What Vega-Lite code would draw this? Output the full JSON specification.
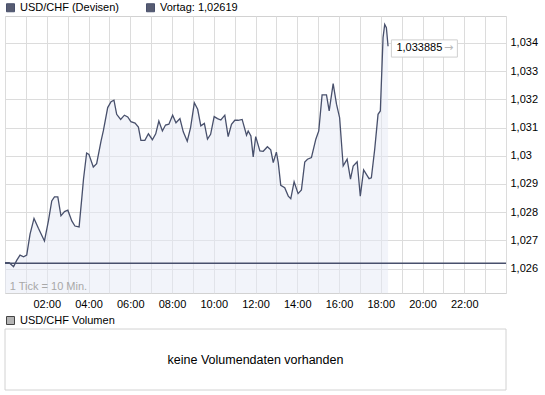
{
  "$schema": "https://vega.github.io/schema/vega-lite/v6.json",
  "background": "white",
  "padding": {"left": 3, "top": 1, "right": 0, "bottom": 0},
  "bounds": "flush",
  "spacing": 36,
  "config": {
    "font": "Liberation Sans",
    "view": {"stroke": "#d2d2d2"},
    "axis": {"labelFont": "Liberation Sans", "labelFontSize": 11, "labelColor": "#000000", "gridColor": "#dcdcdc", "gridWidth": 1, "domain": false, "ticks": false, "title": null, "labelOverlap": false},
    "legend": {"labelFont": "Liberation Sans", "labelFontSize": 11, "labelColor": "#000000", "padding": 0}
  },
  "datasets": {
    "fx": [
      {"h": 0.0, "v": 1.02621}, {"h": 0.2, "v": 1.02621}, {"h": 0.41, "v": 1.02607}, {"h": 0.56, "v": 1.02629},
      {"h": 0.72, "v": 1.02648}, {"h": 0.89, "v": 1.02642}, {"h": 1.04, "v": 1.02648}, {"h": 1.2, "v": 1.02722},
      {"h": 1.39, "v": 1.02778}, {"h": 1.6, "v": 1.02743}, {"h": 1.89, "v": 1.02698}, {"h": 2.08, "v": 1.02769},
      {"h": 2.24, "v": 1.0284}, {"h": 2.37, "v": 1.02854}, {"h": 2.53, "v": 1.02854}, {"h": 2.68, "v": 1.02787},
      {"h": 2.85, "v": 1.02802}, {"h": 3.01, "v": 1.02807}, {"h": 3.2, "v": 1.02769}, {"h": 3.35, "v": 1.02751},
      {"h": 3.55, "v": 1.02748}, {"h": 3.68, "v": 1.02851}, {"h": 3.76, "v": 1.02917}, {"h": 3.91, "v": 1.0301},
      {"h": 4.02, "v": 1.03005}, {"h": 4.23, "v": 1.0296}, {"h": 4.39, "v": 1.02972}, {"h": 4.6, "v": 1.03052},
      {"h": 4.71, "v": 1.03088}, {"h": 4.92, "v": 1.03171}, {"h": 5.08, "v": 1.03192}, {"h": 5.22, "v": 1.03197},
      {"h": 5.35, "v": 1.03147}, {"h": 5.54, "v": 1.03129}, {"h": 5.72, "v": 1.03144}, {"h": 5.88, "v": 1.03138},
      {"h": 6.03, "v": 1.03121}, {"h": 6.23, "v": 1.03116}, {"h": 6.39, "v": 1.03102}, {"h": 6.51, "v": 1.03055},
      {"h": 6.7, "v": 1.03055}, {"h": 6.87, "v": 1.03078}, {"h": 7.06, "v": 1.03057}, {"h": 7.22, "v": 1.03078},
      {"h": 7.37, "v": 1.03123}, {"h": 7.54, "v": 1.03088}, {"h": 7.69, "v": 1.03109}, {"h": 7.85, "v": 1.03112},
      {"h": 8.03, "v": 1.03144}, {"h": 8.19, "v": 1.03117}, {"h": 8.38, "v": 1.03132}, {"h": 8.54, "v": 1.03085},
      {"h": 8.73, "v": 1.03052}, {"h": 8.89, "v": 1.031}, {"h": 9.07, "v": 1.03188}, {"h": 9.23, "v": 1.03165},
      {"h": 9.38, "v": 1.03106}, {"h": 9.55, "v": 1.03115}, {"h": 9.7, "v": 1.03059}, {"h": 9.85, "v": 1.03076},
      {"h": 10.02, "v": 1.03139}, {"h": 10.18, "v": 1.03132}, {"h": 10.34, "v": 1.03127}, {"h": 10.53, "v": 1.03144},
      {"h": 10.69, "v": 1.03068}, {"h": 10.85, "v": 1.03112}, {"h": 11.01, "v": 1.03126}, {"h": 11.17, "v": 1.03126},
      {"h": 11.36, "v": 1.03129}, {"h": 11.57, "v": 1.03073}, {"h": 11.65, "v": 1.03088}, {"h": 11.78, "v": 1.0307},
      {"h": 11.89, "v": 1.02996}, {"h": 12.01, "v": 1.03068}, {"h": 12.21, "v": 1.03017}, {"h": 12.37, "v": 1.03016},
      {"h": 12.57, "v": 1.03032}, {"h": 12.73, "v": 1.03021}, {"h": 12.85, "v": 1.02976}, {"h": 13.0, "v": 1.03013},
      {"h": 13.09, "v": 1.02976}, {"h": 13.21, "v": 1.02895}, {"h": 13.4, "v": 1.02887}, {"h": 13.57, "v": 1.02857},
      {"h": 13.69, "v": 1.02848}, {"h": 13.85, "v": 1.02908}, {"h": 14.04, "v": 1.02866}, {"h": 14.2, "v": 1.02879},
      {"h": 14.36, "v": 1.02978}, {"h": 14.49, "v": 1.02988}, {"h": 14.68, "v": 1.02994}, {"h": 14.89, "v": 1.03059},
      {"h": 15.03, "v": 1.03088}, {"h": 15.19, "v": 1.03216}, {"h": 15.4, "v": 1.03216}, {"h": 15.53, "v": 1.03159},
      {"h": 15.72, "v": 1.03256}, {"h": 15.88, "v": 1.03183}, {"h": 16.03, "v": 1.03135}, {"h": 16.2, "v": 1.02964},
      {"h": 16.39, "v": 1.02988}, {"h": 16.55, "v": 1.02917}, {"h": 16.68, "v": 1.02964}, {"h": 16.87, "v": 1.02979},
      {"h": 17.02, "v": 1.02857}, {"h": 17.18, "v": 1.0295}, {"h": 17.44, "v": 1.02919}, {"h": 17.55, "v": 1.02922},
      {"h": 17.71, "v": 1.03023}, {"h": 17.87, "v": 1.03147}, {"h": 17.98, "v": 1.03159}, {"h": 18.11, "v": 1.03419},
      {"h": 18.19, "v": 1.03466}, {"h": 18.27, "v": 1.03454}, {"h": 18.35, "v": 1.033885}
    ]
  },
  "vconcat": [
    {
      "width": 501,
      "height": 277,
      "layer": [
        {
          "data": {"name": "fx"},
          "mark": {"type": "area", "color": "#e6e9f5", "opacity": 0.5, "clip": true},
          "encoding": {
            "x": {"field": "h", "type": "quantitative", "scale": {"domain": [0, 24], "nice": false},
              "axis": {"orient": "bottom", "values": [0,1,2,3,4,5,6,7,8,9,10,11,12,13,14,15,16,17,18,19,20,21,22,23,24], "tickCount": 50, "labelPadding": 5, "labelOverlap": false,
                "labelExpr": "(datum.value % 2 == 0 && datum.value > 0 && datum.value < 24) ? ((datum.value < 10 ? '0' : '') + datum.value + ':00') : ''"}},
            "y": {"field": "v", "type": "quantitative", "scale": {"domain": [1.025135, 1.034957], "zero": false, "nice": false},
              "axis": {"orient": "right", "values": [1.026, 1.027, 1.028, 1.029, 1.03, 1.031, 1.032, 1.033, 1.034], "tickCount": 50, "labelPadding": 4, "labelOverlap": false, "labelBound": false,
                "labelExpr": "replace(format(datum.value, '.3~f'), '.', ',')"}}
          }
        },
        {
          "data": {"name": "fx"},
          "mark": {"type": "line", "strokeWidth": 1.3, "clip": true},
          "encoding": {
            "x": {"field": "h", "type": "quantitative", "scale": {"domain": [0, 24], "nice": false}},
            "y": {"field": "v", "type": "quantitative", "scale": {"domain": [1.025135, 1.034957], "zero": false, "nice": false}},
            "color": {"datum": "USD/CHF (Devisen)",
              "scale": {"domain": ["USD/CHF (Devisen)", "Vortag: 1,02619"], "range": ["#48506c", "#48506c"]},
              "legend": {"orient": "none", "legendX": 0, "legendY": -14, "direction": "horizontal", "title": null,
                "symbolType": "square", "symbolSize": 64, "columnPadding": 24, "labelOffset": 4,
                "encode": {"symbols": {"update": {"fill": {"value": "#575c72"}, "stroke": {"value": "#222222"}, "strokeWidth": {"value": 1}}}}}}
          }
        },
        {
          "data": {"values": [{}]},
          "mark": {"type": "rule", "strokeWidth": 1.3},
          "encoding": {
            "y": {"datum": 1.02619, "type": "quantitative", "scale": {"domain": [1.025135, 1.034957], "zero": false, "nice": false}},
            "color": {"datum": "Vortag: 1,02619"}
          }
        },
        {
          "data": {"values": [{}]},
          "mark": {"type": "rect", "fill": "#ffffff", "stroke": "#cfcfcf", "strokeWidth": 1},
          "encoding": {
            "x": {"datum": 18.51, "type": "quantitative", "scale": {"domain": [0, 24], "nice": false}},
            "x2": {"datum": 21.67},
            "y": {"datum": 1.03411, "type": "quantitative", "scale": {"domain": [1.025135, 1.034957], "zero": false, "nice": false}},
            "y2": {"datum": 1.0335}
          }
        },
        {
          "data": {"values": [{"h": 18.75, "v": 1.033805, "t": "1,033885"}]},
          "mark": {"type": "text", "align": "left", "baseline": "middle", "fontSize": 11, "color": "#000000"},
          "encoding": {
            "x": {"field": "h", "type": "quantitative", "scale": {"domain": [0, 24], "nice": false}},
            "y": {"field": "v", "type": "quantitative", "scale": {"domain": [1.025135, 1.034957], "zero": false, "nice": false}},
            "text": {"field": "t"}
          }
        },
        {
          "data": {"values": [{"h": 21.03, "v": 1.033805, "t": "→"}]},
          "mark": {"type": "text", "align": "left", "baseline": "middle", "fontSize": 11, "color": "#b8b8b8", "font": "DejaVu Sans"},
          "encoding": {
            "x": {"field": "h", "type": "quantitative", "scale": {"domain": [0, 24], "nice": false}},
            "y": {"field": "v", "type": "quantitative", "scale": {"domain": [1.025135, 1.034957], "zero": false, "nice": false}},
            "text": {"field": "t"}
          }
        },
        {
          "data": {"values": [{"h": 0.23, "v": 1.02535, "t": "1 Tick = 10 Min."}]},
          "mark": {"type": "text", "align": "left", "baseline": "middle", "fontSize": 11, "color": "#a8a8a8"},
          "encoding": {
            "x": {"field": "h", "type": "quantitative", "scale": {"domain": [0, 24], "nice": false}},
            "y": {"field": "v", "type": "quantitative", "scale": {"domain": [1.025135, 1.034957], "zero": false, "nice": false}},
            "text": {"field": "t"}
          }
        }
      ]
    },
    {
      "width": 501,
      "height": 61,
      "layer": [
        {
          "data": {"values": [{}]},
          "mark": {"type": "rect", "fill": null, "stroke": "#d2d2d2", "strokeWidth": 1},
          "encoding": {}
        },
        {
          "data": {"values": [{"s": "USD/CHF Volumen"}]},
          "mark": {"type": "square", "opacity": 0},
          "encoding": {
            "color": {"field": "s", "type": "nominal", "scale": {"range": ["#b4b4b4"]},
              "legend": {"orient": "none", "legendX": 0, "legendY": -14, "title": null, "symbolType": "square", "symbolSize": 64, "labelOffset": 4,
                "encode": {"symbols": {"update": {"fill": {"value": "#b4b4b4"}, "stroke": {"value": "#444444"}, "strokeWidth": {"value": 1}, "opacity": {"value": 1}}}}}}
          }
        },
        {
          "data": {"values": [{"msg": "keine Volumendaten vorhanden"}]},
          "mark": {"type": "text", "fontSize": 12.5, "color": "#000000", "align": "center", "baseline": "middle"},
          "encoding": {"text": {"field": "msg"}}
        }
      ]
    }
  ],
  "resolve": {"scale": {"color": "independent"}, "legend": {"color": "independent"}}
}
